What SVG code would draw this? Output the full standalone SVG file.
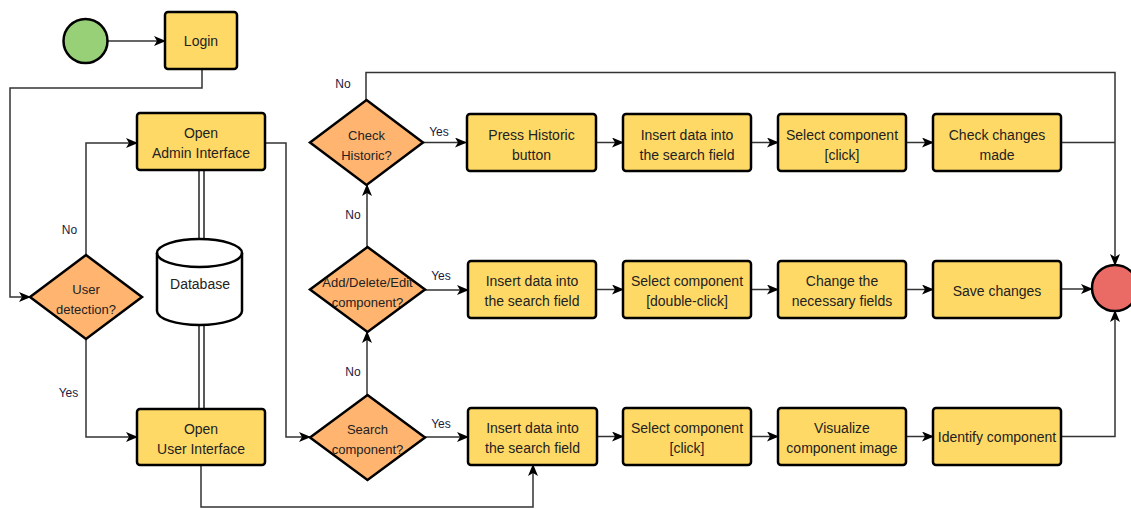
<svg xmlns="http://www.w3.org/2000/svg" width="1131" height="509" viewBox="0 0 1131 509">
  <style>
    .box { fill: #FFD966; stroke: #000; stroke-width: 2.5; }
    .dec { fill: #FFB570; stroke: #000; stroke-width: 2.5; }
    .t { font-family: "Liberation Sans", Arial, sans-serif; font-size: 14px; fill: #222; text-anchor: middle; }
    .td { font-family: "Liberation Sans", Arial, sans-serif; font-size: 13px; fill: #222; text-anchor: middle; }
    .lbl { font-family: "Liberation Sans", Arial, sans-serif; font-size: 12px; fill: #1a1a40; text-anchor: middle; }
    .edge { fill: none; stroke: #333; stroke-width: 1.5; }
    .arr { marker-end: url(#arrow); }
  </style>
  <defs>
    <marker id="arrow" viewBox="0 0 12 10" refX="11" refY="5" markerWidth="12" markerHeight="10" markerUnits="userSpaceOnUse" orient="auto">
      <path d="M0,0 L12,5 L0,10 L3,5 Z" fill="#000"/>
    </marker>
  </defs>
  <rect width="1131" height="509" fill="#fff"/>

  <!-- connectors -->
  <g id="connectors">
    <path class="edge arr" d="M108,41 H165"/>
    <path class="edge arr" d="M202,69 V88 H10 V297 H30"/>
    <path class="edge arr" d="M86,255 V143 H137"/>
    <path class="edge arr" d="M86,339 V437 H137"/>
    <path class="edge arr" d="M265,143 H286 V437 H310"/>
    <path class="edge arr" d="M201,465 V507 H533 V465"/>
    <!-- database links -->
    <path d="M201.5,170 V239 M201.5,325 V408" stroke="#222" stroke-width="6.5" fill="none"/>
    <path d="M201.5,170 V239 M201.5,325 V408" stroke="#fff" stroke-width="3.5" fill="none"/>
    <!-- decision chain -->
    <path class="edge arr" d="M367,395 V332"/>
    <path class="edge arr" d="M367,247 V185"/>
    <path class="edge arr" d="M366,100 V72.5 H1115 V265"/>
    <path class="edge arr" d="M423,142.5 H466"/>
    <path class="edge arr" d="M425,290 H468"/>
    <path class="edge arr" d="M425,437 H468"/>
    <!-- row 1 -->
    <path class="edge arr" d="M596,142.5 H623"/>
    <path class="edge arr" d="M751,142.5 H778"/>
    <path class="edge arr" d="M906,142.5 H933"/>
    <path class="edge" d="M1061,142.5 H1115"/>
    <!-- row 2 -->
    <path class="edge arr" d="M596,289.5 H623"/>
    <path class="edge arr" d="M751,289.5 H778"/>
    <path class="edge arr" d="M906,289.5 H933"/>
    <path class="edge arr" d="M1061,289 H1092"/>
    <!-- row 3 -->
    <path class="edge arr" d="M596,436.5 H623"/>
    <path class="edge arr" d="M751,436.5 H778"/>
    <path class="edge arr" d="M906,436.5 H933"/>
    <path class="edge arr" d="M1061,436.5 H1115 V311"/>
  </g>

  <!-- edge labels -->
  <g id="edge-labels">
    <text class="lbl" x="69.5" y="234">No</text>
    <text class="lbl" x="68.5" y="397">Yes</text>
    <text class="lbl" x="343" y="88">No</text>
    <text class="lbl" x="353" y="219">No</text>
    <text class="lbl" x="353" y="376">No</text>
    <text class="lbl" x="439" y="136">Yes</text>
    <text class="lbl" x="441" y="280">Yes</text>
    <text class="lbl" x="441" y="428">Yes</text>
  </g>

  <g id="start"><circle cx="85.5" cy="41" r="22" fill="#97D077" stroke="#000" stroke-width="2.5"/></g>
  <g id="end"><circle cx="1115" cy="288" r="23" fill="#EA6B66" stroke="#000" stroke-width="2.5"/></g>

  <g id="login">
    <rect class="box" x="165" y="12" width="72" height="57" rx="3"/>
    <text class="t" x="201" y="46">Login</text>
  </g>

  <g id="user-detection">
    <polygon class="dec" points="86,255 142,297 86,339 30,297"/>
    <text class="td" x="86" y="294">User</text>
    <text class="td" x="86" y="314">detection?</text>
  </g>

  <g id="admin-interface">
    <rect class="box" x="137" y="113" width="128" height="57" rx="3"/>
    <text class="t" x="201" y="138">Open</text>
    <text class="t" x="201" y="158">Admin Interface</text>
  </g>

  <g id="user-interface">
    <rect class="box" x="137" y="409" width="128" height="56" rx="3"/>
    <text class="t" x="201" y="434">Open</text>
    <text class="t" x="201" y="454">User Interface</text>
  </g>

  <g id="database">
    <path d="M157,253 A42.5,14 0 0 1 242,253 V311 A42.5,14 0 0 1 157,311 Z" fill="#fff" stroke="#000" stroke-width="2.5"/>
    <path d="M157,253 A42.5,14 0 0 0 242,253" fill="none" stroke="#000" stroke-width="2.5"/>
    <text class="t" x="200" y="289">Database</text>
  </g>

  <g id="check-historic">
    <polygon class="dec" points="366.5,100 423,142.5 366.5,185 310,142.5"/>
    <text class="td" x="366.5" y="140">Check</text>
    <text class="td" x="366.5" y="160">Historic?</text>
  </g>

  <g id="add-delete-edit">
    <polygon class="dec" points="367.5,247 425,289.5 367.5,332 310,289.5"/>
    <text class="td" x="367.5" y="287">Add/Delete/Edit</text>
    <text class="td" x="367.5" y="307">component?</text>
  </g>

  <g id="search-component">
    <polygon class="dec" points="367.5,395 425,437.5 367.5,480 310,437.5"/>
    <text class="td" x="367.5" y="434">Search</text>
    <text class="td" x="367.5" y="454">component?</text>
  </g>

  <!-- row 1 -->
  <g id="press-historic">
    <rect class="box" x="467" y="114" width="129" height="57" rx="3"/>
    <text class="t" x="531.5" y="140">Press Historic</text>
    <text class="t" x="531.5" y="160">button</text>
  </g>
  <g id="insert-data-1">
    <rect class="box" x="623" y="114" width="128" height="57" rx="3"/>
    <text class="t" x="687" y="140">Insert data into</text>
    <text class="t" x="687" y="160">the search field</text>
  </g>
  <g id="select-click-1">
    <rect class="box" x="778" y="114" width="128" height="57" rx="3"/>
    <text class="t" x="842" y="140">Select component</text>
    <text class="t" x="842" y="160">[click]</text>
  </g>
  <g id="check-changes">
    <rect class="box" x="933" y="114" width="128" height="57" rx="3"/>
    <text class="t" x="997" y="140">Check changes</text>
    <text class="t" x="997" y="160">made</text>
  </g>

  <!-- row 2 -->
  <g id="insert-data-2">
    <rect class="box" x="468" y="261" width="128" height="57" rx="3"/>
    <text class="t" x="532" y="286">Insert data into</text>
    <text class="t" x="532" y="306">the search field</text>
  </g>
  <g id="select-double-click">
    <rect class="box" x="623" y="261" width="128" height="57" rx="3"/>
    <text class="t" x="687" y="286">Select component</text>
    <text class="t" x="687" y="306">[double-click]</text>
  </g>
  <g id="change-fields">
    <rect class="box" x="778" y="261" width="128" height="57" rx="3"/>
    <text class="t" x="842" y="286">Change the</text>
    <text class="t" x="842" y="306">necessary fields</text>
  </g>
  <g id="save-changes">
    <rect class="box" x="933" y="261" width="128" height="57" rx="3"/>
    <text class="t" x="997" y="296">Save changes</text>
  </g>

  <!-- row 3 -->
  <g id="insert-data-3">
    <rect class="box" x="468" y="408" width="129" height="57" rx="3"/>
    <text class="t" x="532.5" y="433">Insert data into</text>
    <text class="t" x="532.5" y="453">the search field</text>
  </g>
  <g id="select-click-3">
    <rect class="box" x="623" y="408" width="128" height="57" rx="3"/>
    <text class="t" x="687" y="433">Select component</text>
    <text class="t" x="687" y="453">[click]</text>
  </g>
  <g id="visualize-image">
    <rect class="box" x="778" y="408" width="128" height="57" rx="3"/>
    <text class="t" x="842" y="433">Visualize</text>
    <text class="t" x="842" y="453">component image</text>
  </g>
  <g id="identify-component">
    <rect class="box" x="933" y="408" width="128" height="57" rx="3"/>
    <text class="t" x="997" y="442">Identify component</text>
  </g>
</svg>
